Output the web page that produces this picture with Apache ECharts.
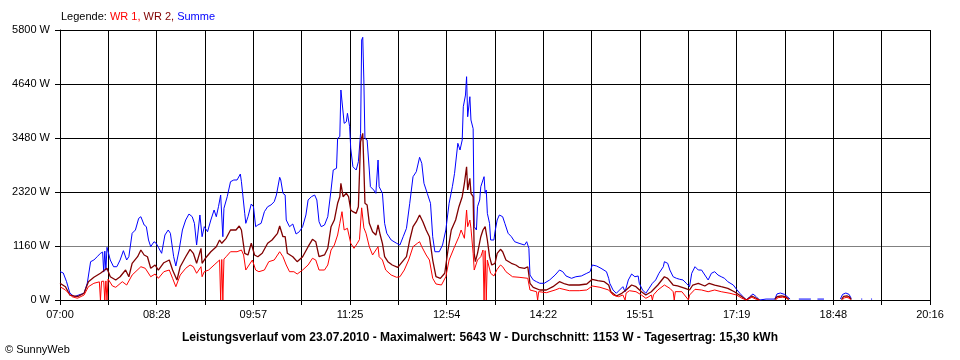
<!DOCTYPE html>
<html><head><meta charset="utf-8">
<script src="https://cdn.jsdelivr.net/npm/echarts@6/dist/echarts.min.js"></script>
<style>html,body{margin:0;padding:0;background:#fff}#c{width:960px;height:360px}</style>
</head><body><div id="c"></div>
<script>
// time in minutes after 07:00, power in W
const tickLabels = ['07:00','08:28','09:57','11:25','12:54','14:22','15:51','17:19','18:48','20:16'];
const spanMinutes = 796;
const yMax = 5800;
const yStep = 1160;

const summe = [[0,610],[3,580],[6,393],[9,150],[13,71],[17,107],[22,144],[25,365],[28,823],[31,859],[34,930],[37,1003],[39,1030],[40,600],[41,1050],[42,640],[43,1132],[46,859],[49,715],[52,715],[55,859],[58,1059],[61,859],[63,930],[66,1433],[69,1504],[72,1755],[74,1789],[77,1611],[79,1575],[81,1289],[83,1145],[86,1252],[88,1218],[90,1132],[93,1003],[96,1396],[99,1504],[101,1433],[104,930],[106,730],[109,1074],[112,1504],[115,1718],[118,1847],[121,1789],[123,1647],[125,1181],[128,1826],[129,1862],[130,1360],[132,1575],[135,1467],[138,1718],[141,1933],[143,1789],[145,2004],[147,2255],[149,1360],[150,1970],[153,2219],[156,2541],[159,2578],[162,2578],[165,2706],[166,2541],[169,1862],[170,1647],[172,1789],[175,2062],[177,2004],[179,1575],[181,1611],[184,1647],[187,1897],[190,2004],[193,2041],[196,2112],[198,2255],[201,2636],[202,2578],[204,2292],[206,2255],[207,1718],[210,1575],[213,1632],[216,1418],[219,1467],[222,1575],[225,1826],[227,2148],[230,2219],[233,2255],[235,2148],[237,1682],[239,1575],[242,1611],[245,1789],[248,2363],[250,2792],[253,2829],[254,3473],[256,3508],[257,4511],[258,4547],[260,3795],[262,3830],[263,4010],[265,3723],[266,3258],[268,2863],[271,2792],[273,2971],[275,3581],[276,5585],[277,5643],[278,4726],[279,3473],[281,3437],[283,2792],[284,2434],[287,2363],[289,2292],[291,3007],[292,2434],[295,2292],[297,1647],[299,1433],[303,1289],[308,1218],[311,1181],[314,1360],[317,1540],[320,2077],[323,2648],[326,2756],[329,3065],[331,2936],[333,2507],[336,2292],[339,2077],[341,1360],[343,1037],[347,1037],[350,1181],[353,1504],[356,2077],[359,2434],[361,2721],[364,3366],[366,3222],[368,3437],[369,4152],[371,4403],[372,4797],[373,3937],[375,4367],[376,3866],[378,3680],[379,1575],[381,1504],[382,2004],[384,2148],[385,2434],[387,2578],[388,2649],[389,2292],[390,2363],[391,1862],[393,1647],[394,1289],[397,1289],[398,1467],[400,1718],[402,1826],[405,1789],[407,1647],[410,1433],[413,1360],[416,1252],[420,1218],[425,1181],[427,1252],[429,1110],[430,537],[433,430],[436,393],[439,359],[443,359],[448,430],[453,537],[457,644],[460,608],[463,516],[468,466],[472,500],[477,516],[482,574],[485,608],[487,752],[491,730],[495,681],[500,608],[502,466],[503,359],[506,215],[509,144],[512,215],[515,286],[517,178],[520,430],[523,558],[526,500],[529,516],[530,359],[533,215],[536,144],[539,251],[542,359],[545,430],[548,574],[552,715],[553,823],[556,788],[558,644],[561,500],[564,466],[567,445],[570,430],[573,359],[576,286],[578,574],[581,715],[584,644],[587,644],[590,537],[593,430],[596,574],[599,608],[602,537],[605,500],[608,466],[611,393],[616,322],[619,230],[622,144],[625,71],[628,0],[631,71],[634,129],[637,71],[640,0],[641,10],[646,20],[654,20],[656,130],[659,150],[663,120],[666,60],[668,20],[669,'-'],[676,20],[687,20],[688,'-'],[693,20],[699,20],[700,'-'],[714,20],[716,120],[719,150],[722,120],[724,30],[725,'-'],[733,20],[734,20],[735,'-'],[742,20],[743,20]];

const wr2 = [[0,359],[5,286],[9,107],[16,71],[22,144],[26,393],[31,488],[37,574],[43,681],[46,500],[51,430],[55,500],[60,644],[63,500],[66,788],[71,930],[74,1074],[77,967],[80,930],[83,681],[87,752],[90,644],[95,801],[100,859],[103,644],[107,430],[110,715],[115,930],[119,1089],[122,1003],[125,788],[129,1110],[130,788],[133,896],[138,1037],[143,1145],[146,1289],[148,1218],[152,1325],[156,1504],[161,1504],[164,1590],[166,1504],[169,1003],[172,967],[175,1218],[178,967],[181,930],[185,1003],[190,1218],[194,1289],[199,1433],[201,1590],[204,1360],[206,1360],[208,1003],[213,930],[217,823],[222,930],[227,1145],[231,1304],[234,1252],[237,930],[242,967],[245,1110],[248,1575],[251,1718],[254,2077],[256,2219],[257,2507],[259,2219],[262,2292],[264,2219],[266,1933],[268,1897],[271,1862],[273,2004],[275,3400],[277,3580],[278,2863],[279,2077],[281,2041],[283,1647],[286,1467],[289,1396],[291,1611],[293,1396],[295,1218],[297,930],[300,823],[304,752],[309,702],[312,788],[317,930],[320,1289],[323,1575],[326,1682],[329,1826],[332,1682],[335,1504],[338,1360],[341,859],[344,500],[348,466],[352,574],[355,1074],[358,1504],[362,1718],[365,2004],[368,2219],[370,2507],[372,2863],[373,2363],[375,2614],[376,2292],[378,2219],[379,1003],[380,823],[382,1003],[385,1360],[387,1504],[389,1575],[391,1289],[393,930],[395,752],[398,788],[400,1003],[403,1089],[405,1037],[408,859],[413,788],[417,752],[420,702],[425,681],[428,715],[430,359],[433,273],[439,215],[445,215],[451,286],[457,393],[462,344],[466,322],[475,322],[482,344],[487,445],[492,415],[498,393],[502,322],[504,178],[509,86],[514,144],[518,215],[523,322],[527,286],[532,178],[536,107],[541,178],[547,322],[553,500],[556,466],[561,322],[565,301],[572,251],[576,215],[579,322],[584,359],[590,301],[594,359],[599,322],[605,286],[611,251],[617,178],[624,71],[628,0],[633,86],[637,37],[640,0],[641,'-'],[654,10],[656,70],[660,90],[664,70],[667,10],[668,'-'],[715,10],[717,80],[720,90],[722,70],[724,10]];

const wr1 = [[0,286],[5,215],[11,71],[16,37],[22,107],[26,286],[31,359],[36,390],[37,0],[38,400],[40,405],[41,0],[42,410],[43,0],[44,450],[45,466],[48,301],[51,273],[57,393],[61,322],[66,537],[74,715],[78,681],[83,500],[87,558],[90,466],[95,608],[100,644],[103,466],[106,286],[110,537],[115,681],[119,752],[122,715],[125,574],[129,715],[130,500],[132,608],[136,644],[141,752],[146,859],[147,0],[148,870],[149,0],[150,880],[152,930],[156,1037],[162,1037],[166,1074],[168,967],[170,644],[173,752],[176,859],[179,644],[182,608],[187,644],[191,823],[196,859],[201,1037],[204,930],[207,752],[210,608],[214,608],[217,558],[222,644],[227,752],[231,896],[234,859],[237,644],[242,644],[245,752],[248,1074],[251,1181],[254,1396],[256,1647],[258,1897],[260,1504],[263,1540],[266,1218],[269,1110],[272,1218],[274,1300],[276,1980],[277,1950],[278,1550],[280,1433],[283,1145],[286,967],[291,1145],[292,930],[295,859],[298,644],[303,537],[308,488],[311,500],[315,644],[319,859],[323,1145],[327,1218],[329,1252],[331,1145],[335,967],[338,859],[341,466],[344,344],[349,322],[353,500],[356,859],[361,1145],[365,1360],[367,1504],[370,1325],[372,1933],[373,1575],[375,1718],[376,1540],[378,1000],[379,644],[382,859],[385,930],[387,1074],[388,0],[389,1060],[390,0],[391,859],[394,574],[397,516],[400,659],[403,752],[405,715],[408,608],[414,500],[420,488],[428,466],[430,215],[436,178],[437,0],[438,180],[445,157],[453,215],[457,251],[466,200],[475,200],[482,215],[487,301],[494,273],[502,215],[506,107],[511,71],[515,107],[517,0],[518,150],[521,200],[527,178],[532,107],[536,37],[537,0],[538,60],[541,107],[542,0],[543,110],[547,215],[553,322],[558,251],[561,178],[562,0],[563,180],[569,178],[575,0],[576,107],[581,230],[587,215],[593,178],[599,215],[605,178],[613,144],[619,107],[624,37],[628,0],[633,58],[637,15],[640,0],[641,'-'],[655,10],[657,50],[661,60],[664,50],[666,10],[667,'-'],[716,10],[718,50],[720,55],[722,40],[723,10]];

const FONT = "'Liberation Sans', Arial, sans-serif";
const step = spanMinutes / 18;
const chart = echarts.init(document.getElementById('c'), null, {renderer: 'canvas'});
const legendPart = function (color) { return {color: color, fontSize: 11, fontWeight: 'normal', fontFamily: FONT}; };
chart.setOption({
  backgroundColor: '#ffffff',
  animation: false,
  textStyle: {fontFamily: FONT},
  title: [
    {text: '{k|Legende: }{a|WR 1, }{b|WR 2, }{c|Summe}', left: 61, top: 10, padding: 0,
     textStyle: {fontFamily: FONT, fontSize: 11, fontWeight: 'normal', lineHeight: 13,
       rich: {k: legendPart('#000000'), a: legendPart('#ff0000'), b: legendPart('#800000'), c: legendPart('#0000ff')}}},
    {text: 'Leistungsverlauf vom 23.07.2010 - Maximalwert: 5643 W - Durchschnitt: 1153 W - Tagesertrag: 15,30 kWh',
     left: 'center', top: 331, padding: 0,
     textStyle: {fontFamily: FONT, fontSize: 12, fontWeight: 'bold', color: '#000', lineHeight: 13}},
    {text: '© SunnyWeb', left: 5, top: 343, padding: 0,
     textStyle: {fontFamily: FONT, fontSize: 11, fontWeight: 'normal', color: '#000', lineHeight: 13}}
  ],
  grid: {left: 60, top: 30, width: 870, height: 270},
  xAxis: {
    type: 'value', min: 0, max: spanMinutes, interval: step,
    axisLine: {show: true, lineStyle: {color: '#000', width: 1}},
    axisTick: {show: true, length: 5, lineStyle: {color: '#000'}},
    axisLabel: {color: '#000', fontSize: 11, fontFamily: FONT, margin: 9, showMinLabel: true, showMaxLabel: true,
      formatter: function (v) { const i = Math.round(v / step); return i % 2 === 0 ? tickLabels[i / 2] : ''; }},
    splitLine: {show: true, lineStyle: {color: '#000', width: 1}}
  },
  yAxis: {
    type: 'value', min: 0, max: yMax, interval: yStep,
    axisLine: {show: true, lineStyle: {color: '#000', width: 1}},
    axisTick: {show: true, length: 5, lineStyle: {color: '#000'}},
    axisLabel: {color: '#000', fontSize: 11, fontFamily: FONT, margin: 10, formatter: function (v) { return v + ' W'; }},
    splitLine: {show: true, lineStyle: {color: ['#000', '#808080', '#000', '#000', '#000', '#000'], width: 1}}
  },
  series: [
    {name: 'Summe', type: 'line', data: summe, symbol: 'none', silent: true, lineStyle: {color: '#0000ff', width: 1}, itemStyle: {color: '#0000ff'}},
    {name: 'WR 2', type: 'line', data: wr2, symbol: 'none', silent: true, lineStyle: {color: '#800000', width: 1.3}, itemStyle: {color: '#800000'}},
    {name: 'WR 1', type: 'line', data: wr1, symbol: 'none', silent: true, lineStyle: {color: '#ff0000', width: 1}, itemStyle: {color: '#ff0000'}}
  ]
});
</script></body></html>
